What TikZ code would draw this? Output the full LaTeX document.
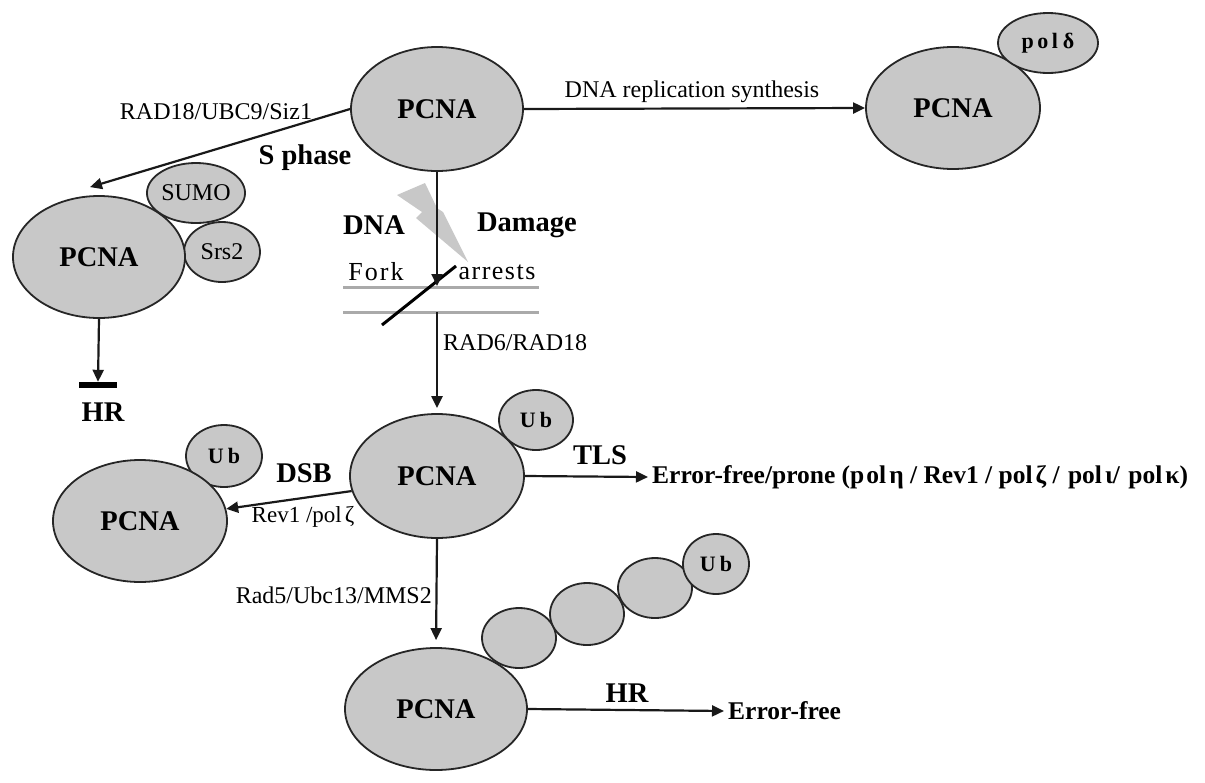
\documentclass[tikz,border=0pt]{standalone}
\usepackage{fontspec}
\setmainfont{Liberation Serif}
\usetikzlibrary{shapes.geometric,arrows.meta,calc}
\definecolor{cellgray}{RGB}{200,200,200}
\definecolor{linegray}{RGB}{170,170,170}
\newcommand\pcnafont{\fontsize{28.5}{30}\selectfont\bfseries}
\newcommand\labfont{\fontsize{24}{26}\selectfont}
\newcommand\forkfont{\fontsize{26}{28}\selectfont}
\newcommand\smlabfont{\fontsize{23}{25}\selectfont}
\newcommand\ubfont{\fontsize{22}{24}\selectfont\bfseries}
\newcommand\errfont{\fontsize{25.5}{27}\selectfont\bfseries}
\begin{document}
\begin{tikzpicture}[x=1pt,y=-1pt,
  blob/.style={ellipse, draw=black!85, line width=1.8pt, fill=cellgray, inner sep=0pt},
  pcna/.style={blob, minimum width=174, minimum height=122, font=\pcnafont},
  arr/.style={line width=2.2pt, black!90, -{Triangle[length=12pt,width=11pt]}},
  boldlab/.style={font=\pcnafont, inner sep=0pt},
  lab/.style={font=\labfont, inner sep=0pt},
  forklab/.style={font=\forkfont, inner sep=0pt},
  smlab/.style={font=\smlabfont, inner sep=0pt}]
\useasboundingbox (0,0) rectangle (1205,782);

% lightning bolt
\fill[cellgray] (397,195) -- (425,183) -- (437,208) -- (443,212) -- (468,262) -- (416,218) -- (422,212) -- cycle;

% fork lines
\draw[linegray, line width=3pt] (343,287) -- (539,287);
\draw[linegray, line width=3pt] (343,312) -- (539,312);
\draw[black, line width=3pt] (382,325) -- (456,266);

% PCNA nodes
\node[pcna, minimum width=172, minimum height=124] (top) at (437,109) {PCNA};
\node[pcna] (rp) at (953,108) {PCNA};
\node[blob, minimum width=100, minimum height=60, font=\ubfont] (pold) at (1048,43) {p\kern3.5pt o\kern3.5pt l\kern5pt δ};

\node[blob, minimum width=98, minimum height=60, font=\labfont] (sumo) at (196,193) {SUMO};
\node[blob, minimum width=76, minimum height=60, font=\labfont] (srs) at (222,252) {Srs2};
\node[pcna, minimum width=172] (ul) at (99,257) {PCNA};

\node[pcna, minimum height=124] (mid) at (437,476) {PCNA};
\node[blob, minimum width=74, minimum height=60, font=\ubfont] (ubm) at (536,420) {U\kern4pt b};

\node[blob, minimum width=76, minimum height=62, font=\ubfont] (ubl) at (224,456) {U\kern4pt b};
\node[pcna] (ll) at (140,521) {PCNA};

\node[blob, minimum width=74, minimum height=60] (c1) at (519,638) {};
\node[blob, minimum width=74, minimum height=62] (c2) at (587,614) {};
\node[blob, minimum width=74, minimum height=60] (c3) at (655,588) {};
\node[blob, minimum width=66, minimum height=60, font=\ubfont] (ubb) at (716,564) {U\kern4pt b};
\node[pcna, minimum width=182] (bot) at (436,709) {PCNA};

% bar and HR (upper left)
\node[fill=black, minimum width=38, minimum height=6, inner sep=0pt] (bar) at (98,385) {};
\node[boldlab] (hr1) at (103,412) {HR};

% end texts
\node[font=\errfont, anchor=west, inner sep=4pt] (tlsend) at (648,477)
  {Error-free/prone (p\kern2pt ol\kern3pt η / Rev1 / pol\kern3pt ζ / \kern2pt pol\kern3pt ι/ \kern2pt pol\kern3pt κ)};
\node[font=\errfont, anchor=west, inner sep=4pt] (hrend) at (724,711) {Error-free};

% coordinates on the fork
\coordinate (forkin) at (437,286);
\coordinate (forkout) at (437,312);

% connectors
\draw[arr] (top.east) -- (rp.west);
\draw[arr] (top.west) -- ($(ul.north)+(-9,-8)$);
\draw[arr] (ul.south) -- (bar.north);
\draw[arr] (top.south) -- (forkin);
\draw[arr, shorten >=5pt] (forkout) -- (mid.north);
\draw[arr] (mid.east) -- (tlsend.west);
\draw[arr] (mid.190) -- (ll.8);
\draw[arr, shorten >=7pt] (mid.south) -- (bot.north);
\draw[arr] (bot.east) -- (hrend.west);

% labels
\node[lab] at (692,92) {DNA replication synthesis};
\node[lab] at (216,112) {RAD18/UBC9/Siz1};
\node[boldlab] at (305,158) {S phase};
\node[boldlab] at (374,225) {DNA};
\node[boldlab] at (527,225) {Damage};
\node[forklab] at (376,272) {F\kern2pt o\kern2pt r\kern2pt k};
\node[forklab] at (497,272) {a\kern1.5pt r\kern1.5pt r\kern1.5pt e\kern1.5pt s\kern1.5pt t\kern1.5pt s};
\node[lab, anchor=west] at (443,343) {RAD6/RAD18};
\node[boldlab] at (600,455) {TLS};
\node[boldlab] at (304,473) {DSB};
\node[smlab] at (303,517) {Rev1 /pol\kern3pt ζ};
\node[lab, anchor=east] at (432,595) {Rad5/Ubc13/MMS2};
\node[boldlab] at (627,693) {HR};
\end{tikzpicture}
\end{document}
